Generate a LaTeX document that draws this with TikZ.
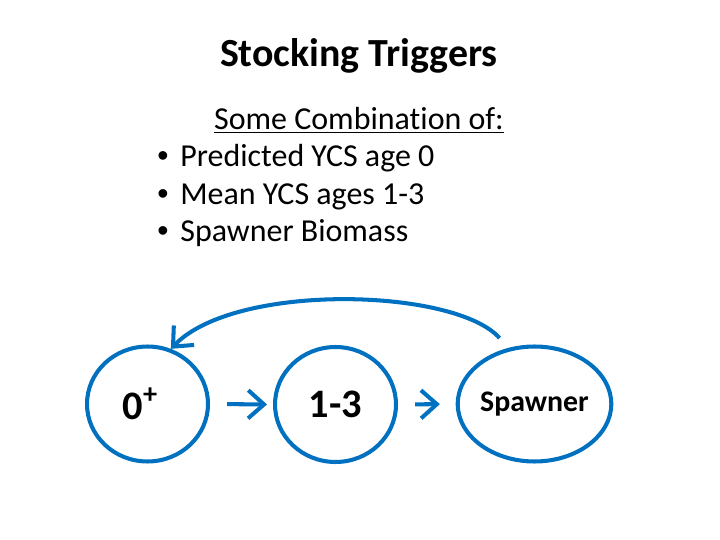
\documentclass[tikz,border=0pt]{standalone}
\usepackage{fontspec}
\setmainfont{Carlito}[Ligatures=NoCommon]
\newfontfamily\bulletfont{Liberation Sans}
\usetikzlibrary{arrows.meta, shapes.geometric}
\definecolor{stockblue}{RGB}{0,112,192}
\tikzset{
  stage/.style={ellipse, draw=stockblue, line width=2.3pt, minimum width=2.42cm, minimum height=2.3cm, inner sep=0pt, font=\bfseries},
  flow/.style={draw=stockblue, line width=2.3pt, ->},
  item/.style={anchor=base west, inner sep=0pt, font=\fontsize{18.2}{22}\selectfont}
}

\begin{document}
\begin{tikzpicture}[x=0.02cm, y=-0.02cm, >={Straight Barb[length=9pt, width=16pt]}]
\useasboundingbox (0,0) rectangle (720,540);
% Title
\node[anchor=base, inner sep=0pt, font=\fontsize{22.7}{27}\selectfont\bfseries] (title) at (359,67) {Stocking Triggers};
% List of triggers
\node[anchor=base, inner sep=0pt, font=\fontsize{18.2}{22}\selectfont] (combo) at (359,130) {\underline{Some Combination of:}};
\node[item] (b1) at (157,167) {\bulletfont•};
\node[item] (t1) at (180,167) {Predicted YCS age 0};
\node[item] (b2) at (157,205) {\bulletfont•};
\node[item] (t2) at (180,205) {Mean YCS ages 1-3};
\node[item] (b3) at (157,242) {\bulletfont•};
\node[item] (t3) at (180,242) {Spawner Biomass};
% Life stages
\node[stage, font=\fontsize{23}{28}\selectfont\bfseries] (zero) at (147.5,404) {0\textsuperscript{+}\hspace*{8pt}};
\node[stage, font=\fontsize{23}{28}\selectfont\bfseries] (mid) at (335.5,404.5) {1-3};
\node[stage, font=\fontsize{17}{20}\selectfont\bfseries] (spawn) at (534.5,404) {Spawner};
% Transitions
\draw[flow, shorten <=9.7pt, shorten >=3.4pt] (zero.east) -- (mid.west);
\draw[flow, shorten <=9.7pt, shorten >=9pt] (mid.east) -- (spawn.west);
% Stocking loop back to age 0
\draw[flow, shorten <=7.5pt] (spawn.115) .. controls (455,288) and (235,282) .. (zero.67);
\end{tikzpicture}
\end{document}
